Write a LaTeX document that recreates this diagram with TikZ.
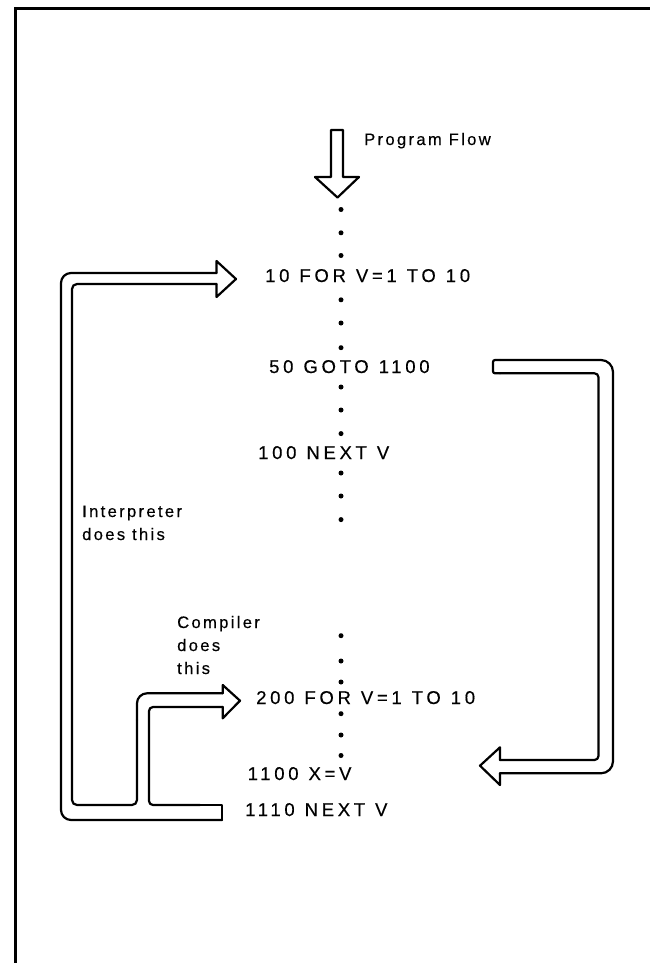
\documentclass[tikz,border=0pt]{standalone}
\usepackage{fontspec}
\newfontfamily\hv[LetterSpace=20,FakeBold=0.4]{Liberation Sans}
\newfontfamily\hvl[LetterSpace=14,FakeBold=0.4]{Liberation Sans}
\newcommand\gp{\hspace{10pt}}
\tikzset{
  outl/.style={line width=2.2pt, line join=round, line cap=round},
  code/.style={inner sep=0pt, anchor=base west, font=\hv\fontsize{18.5}{20}\selectfont},
  lbl/.style={inner sep=0pt, anchor=base west, align=left, font=\hvl\fontsize{16.6}{23}\selectfont},
  dotmark/.style={fill=black}
}
\begin{document}
\begin{tikzpicture}[x=1pt,y=-1pt]
\useasboundingbox (0,0) rectangle (650,963);
% frame
\draw[line width=3pt] (15,963) -- (15,9) -- (650,9);

% program flow arrow
\draw[outl] (331,130) -- (343,130) -- (343,177) -- (359,177) -- (337.5,197.5) -- (315,177) -- (331,177) -- cycle;
\node[lbl] (pf) at (364,145) {Program Flow};

% dots
\foreach \yy in {209.5,232.8,255.5,299.8,323,347.7,387,410,433.6,473,496,519.6,635.7,661,682,713.7,735,755.5}
  \fill[dotmark] (341,\yy) circle[radius=2.5];

% code lines
\node[code] (l10) at (265,282) {10\gp FOR\gp V=1\gp TO\gp 10};
\node[code] (l50) at (269,373) {50\gp GOTO\gp 1100};
\node[code] (l100) at (258,459) {100\gp NEXT\gp V};
\node[code] (l200) at (256,704) {200\gp FOR\gp V=1\gp TO\gp 10};
\node[code] (l1100) at (247.5,780) {1100\gp X=V};
\node[code] (l1110) at (245,816) {1110\gp NEXT\gp V};

% labels (base = last line)
\node[lbl] (interp) at (82,540) {Interpreter\\does this};
\node[lbl] (comp) at (177,674) {Compiler\\does\\this};

% interpreter / compiler arrows (hollow)
\draw[outl, rounded corners=10pt] (216.5,273) -- (61,273) -- (61,820) -- (222,820);
\draw[outl] (222,820) -- (222,805) -- (200,805);
\draw[outl, rounded corners=4pt] (200,805) -- (149,805) -- (149,707) -- (222.7,707);
\draw[outl] (222.7,707) -- (222.7,718.3) -- (240,700.7) -- (222.7,685) -- (222.7,693.3);
\draw[outl, rounded corners=10pt] (222.7,693.3) -- (137,693.3) -- (137,720);
\draw[outl, rounded corners=5pt] (137,720) -- (137,805) -- (72,805) -- (72,284) -- (216.5,284);
\draw[outl] (216.5,284) -- (216.5,297) -- (236,279) -- (216.5,261) -- (216.5,273);

% goto arrow (hollow)
\draw[outl, rounded corners=12pt] (500,360) -- (613,360) -- (613,773.3) -- (500,773.3);
\draw[outl] (500,773.3) -- (500,785) -- (480,765.7) -- (500,747.3) -- (500,760);
\draw[outl, rounded corners=4pt] (500,760) -- (598.5,760) -- (598.5,373.3) -- (500,373.3);
\draw[outl, rounded corners=2pt] (500,373.3) -- (493,373.3) -- (493,360) -- (500,360);
\end{tikzpicture}
\end{document}
